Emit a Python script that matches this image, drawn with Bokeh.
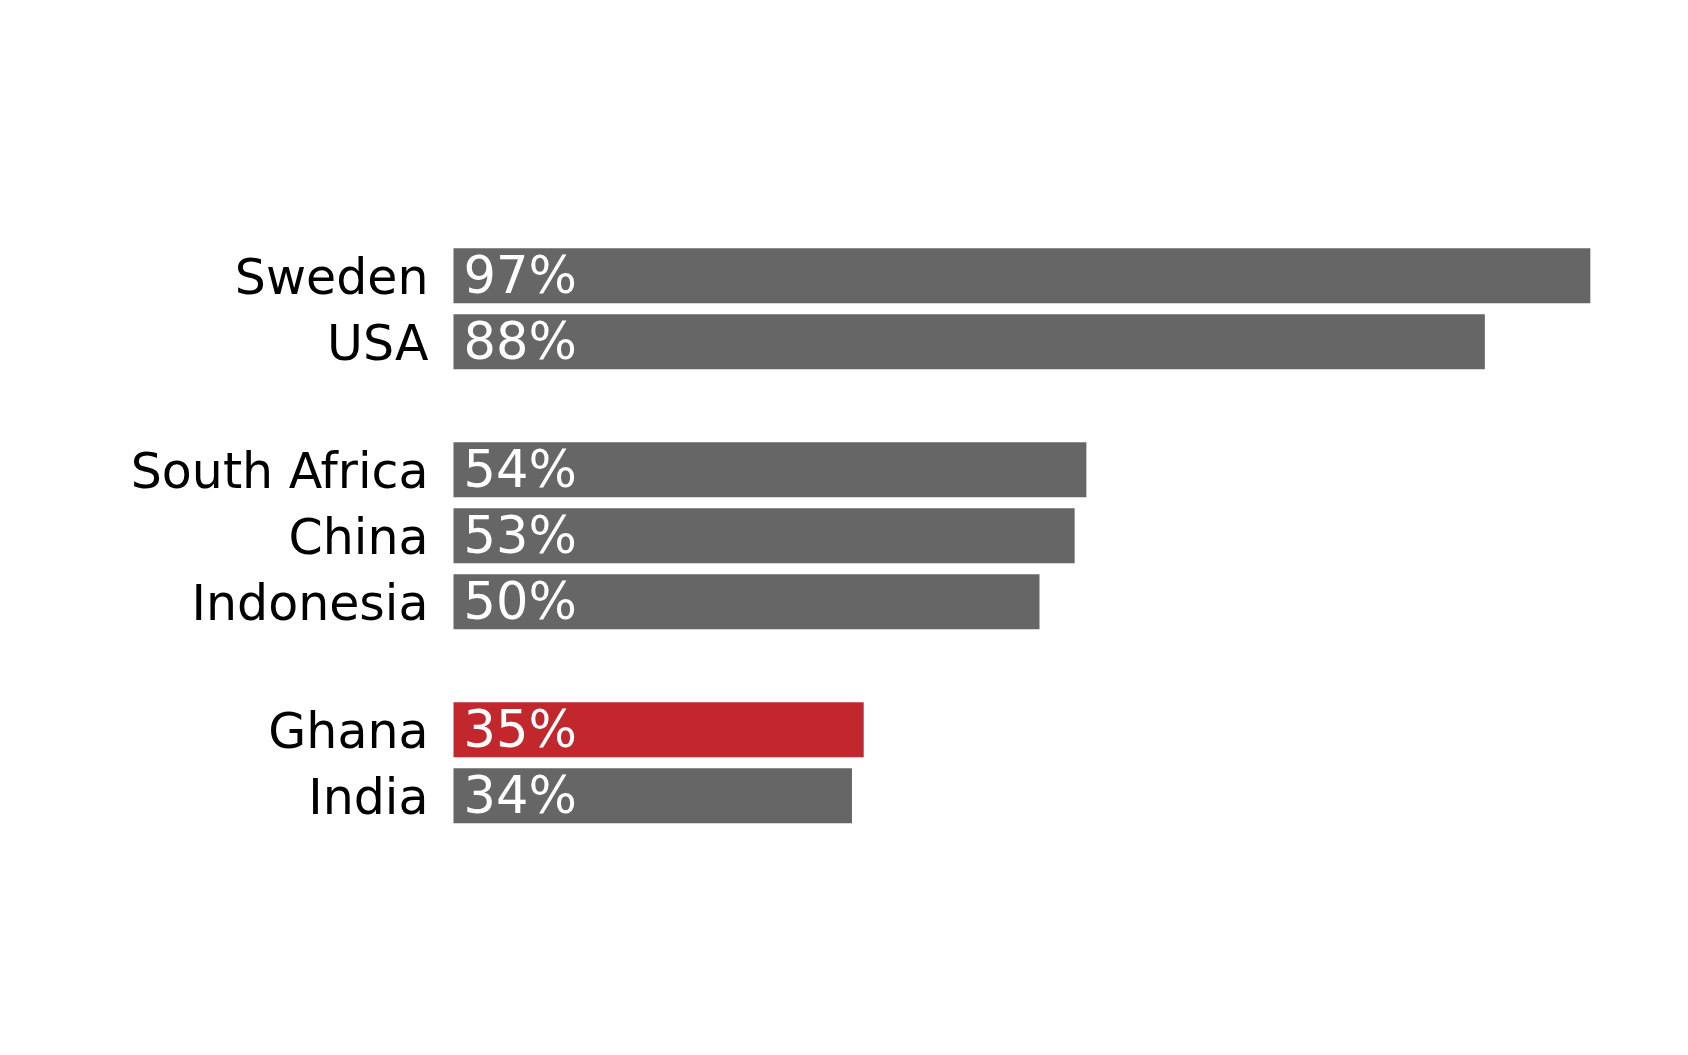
from bokeh.plotting import figure
from bokeh.models import Range1d, ColumnDataSource
from bokeh.core.properties import value
from bokeh.embed import file_html
from bokeh.resources import INLINE

countries = ["Sweden", "USA", "South Africa", "China", "Indonesia", "Ghana", "India"]
groups = [0, 0, 1, 1, 1, 2, 2]
values = [97, 88, 54, 53, 50, 35, 34]
highlight = "Ghana"
labels = [f"{v}%" for v in values]

GRAY = "#666666"
RED = "#C1272D"
FONT = "DejaVu Sans"

W, H = 1672, 1039
pitch = 66.0
group_extra = 0.94
pos = [i + g * group_extra for i, g in enumerate(groups)]
colors = [RED if c == highlight else GRAY for c in countries]

x0_px = 453.0
px_per_unit = 11.72
top_px = 275.2

src = ColumnDataSource(dict(country=countries, val=values, y=pos, color=colors, label=labels))

p = figure(width=W, height=H, output_backend="svg", toolbar_location=None,
           x_range=Range1d(-x0_px / px_per_unit, (W - x0_px) / px_per_unit),
           y_range=Range1d((H - top_px) / pitch, -top_px / pitch),
           min_border=0, border_fill_color="white", background_fill_color="white",
           outline_line_color=None)
p.axis.visible = False
p.grid.visible = False

p.hbar(y="y", left=0, right="val", height=55 / pitch, fill_color="color", line_color=None, source=src)

p.text(x=0, y="y", text="country", source=src, x_offset=-25, y_offset=2,
       text_align="right", text_baseline="alphabetic", text_color="black",
       text_font=value(FONT), text_font_size="49px")
p.text(x=0, y="y", text="label", source=src, x_offset=10, y_offset=0,
       text_align="left", text_baseline="alphabetic", text_color="white",
       text_font=value(FONT), text_font_size="51px")

open("out.html", "w").write(file_html(p, INLINE))
